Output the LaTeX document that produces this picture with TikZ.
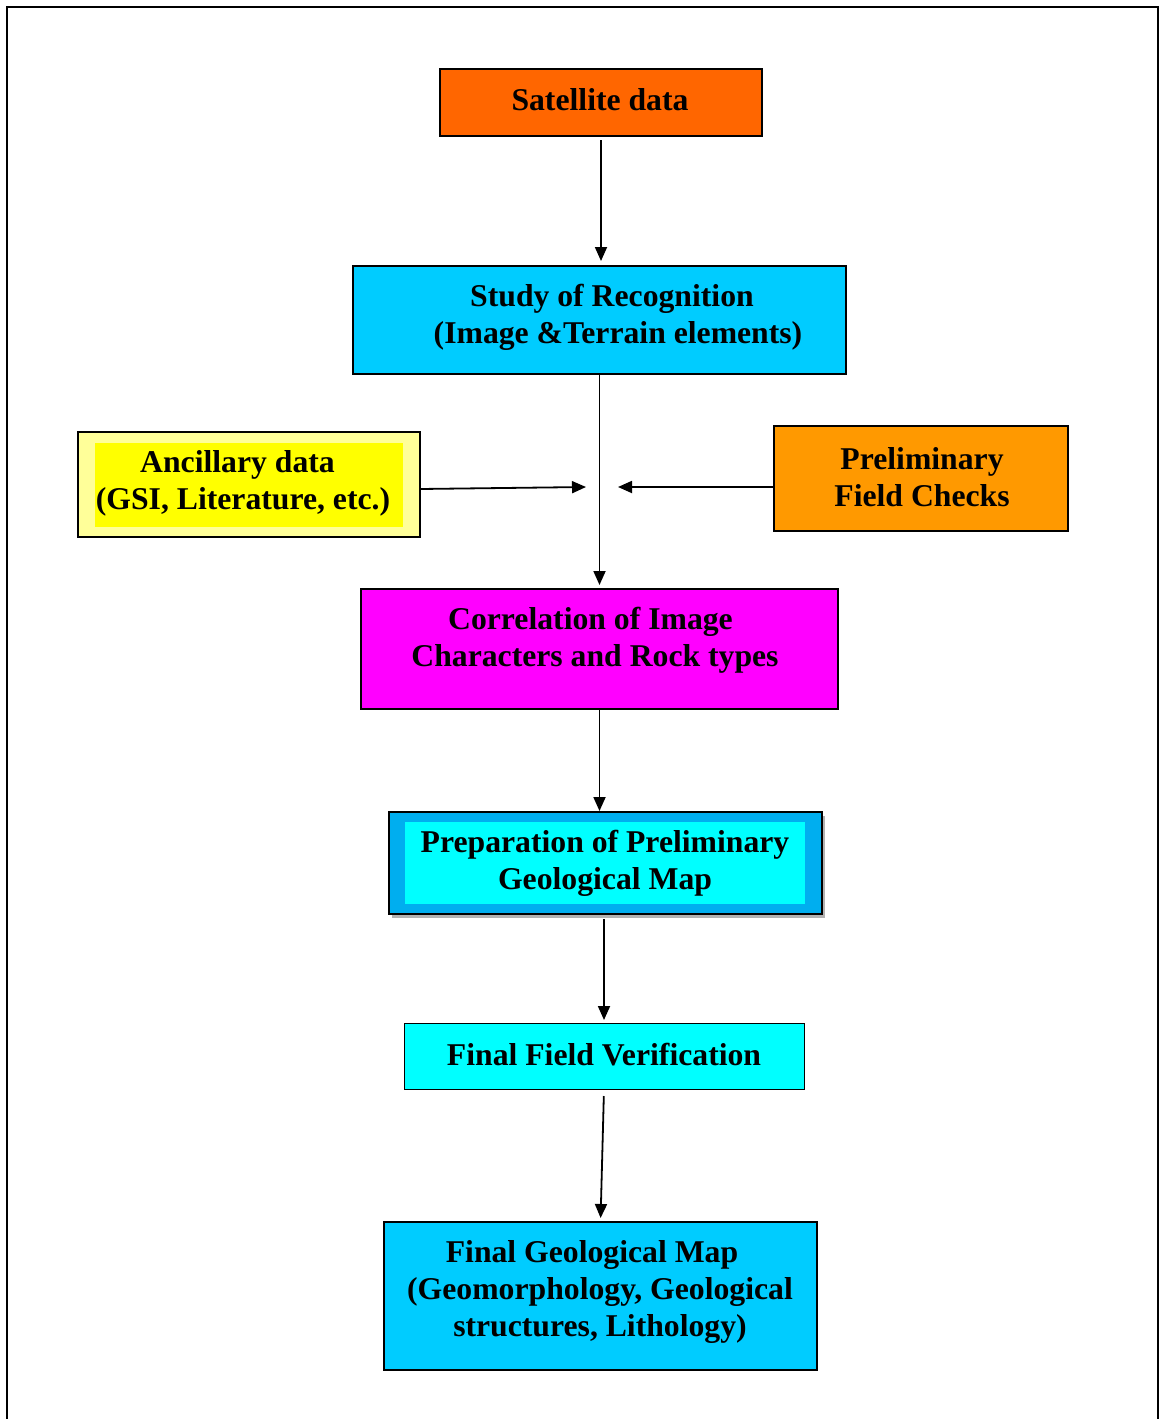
\documentclass[tikz,border=0pt]{standalone}
\usepackage{fontspec}
\setmainfont{Liberation Serif}
\usetikzlibrary{arrows.meta}
\definecolor{satorange}{HTML}{FF6600}
\definecolor{skyblue}{HTML}{00CCFF}
\definecolor{paleyellow}{HTML}{FFFF99}
\definecolor{brightyellow}{HTML}{FFFF00}
\definecolor{amber}{HTML}{FF9900}
\definecolor{magentabox}{HTML}{FF00FF}
\definecolor{deepsky}{HTML}{00AEEF}
\definecolor{cyanbox}{HTML}{00FFFF}
\tikzset{
  box/.style={draw=black, line width=1.5pt, inner sep=0pt, outer sep=0pt},
  plain/.style={inner sep=0pt, outer sep=0pt},
  lbl/.style={inner sep=0pt, align=center, font=\fontsize{31.7}{37}\selectfont\bfseries},
  arr/.style={line width=1.8pt, -{Triangle[length=14pt,width=12pt]}}
}
\begin{document}
\begin{tikzpicture}[x=1pt,y=-1pt]
\useasboundingbox (0,0) rectangle (1159,1419);
% page frame, open at the bottom
\draw[line width=2pt] (7,1425) -- (7,7) -- (1158,7) -- (1158,1425);

% boxes
\node[box, fill=satorange, minimum width=322pt, minimum height=67pt] (sat) at (601,102.5) {};
\node[lbl] (satT) at (600,99.5) {Satellite data};

\node[box, fill=skyblue, minimum width=493pt, minimum height=108pt] (study) at (599.5,320) {};
\node[lbl] (studyT) at (618,317.5) {Study of Recognition\hspace*{12pt}\\(Image \&Terrain elements)};

\node[box, fill=paleyellow, minimum width=342pt, minimum height=105pt] (anc) at (249,484.5) {};
\node[plain, fill=brightyellow, minimum width=308pt, minimum height=84pt] (ancIn) at (249,485) {};
\node[lbl] (ancT) at (243,483.5) {Ancillary data\hspace*{11pt}\\(GSI, Literature, etc.)};

\node[box, fill=amber, minimum width=294pt, minimum height=105pt] (pre) at (921,478.5) {};
\node[lbl] (preT) at (922,477) {Preliminary\\Field Checks};

\node[box, fill=magentabox, minimum width=477pt, minimum height=120pt] (corr) at (599.5,649) {};
\node[lbl] (corrT) at (595,640.5) {Correlation of Image\hspace*{9pt}\\Characters and Rock types};

% shadowed map box
\fill[gray!60] (392,816) rectangle (825,918);
\node[box, line width=2pt, fill=deepsky, minimum width=433pt, minimum height=102pt] (prep) at (605.5,863) {};
\node[plain, fill=cyanbox, minimum width=400pt, minimum height=82pt] (prepIn) at (605,863) {};
\node[lbl] (prepT) at (605,863) {Preparation of Preliminary\\Geological Map};

\node[box, line width=1pt, fill=cyanbox, minimum width=400pt, minimum height=66pt] (ff) at (604,1056) {};
\node[lbl] (ffT) at (604,1054.5) {Final Field Verification};

\node[box, fill=skyblue, minimum width=433pt, minimum height=148pt] (final) at (600.5,1296) {};
\node[lbl] (finalT) at (600,1292) {Final Geological Map\hspace*{16pt}\\(Geomorphology, Geological\\structures, Lithology)};

% connectors
\coordinate (m1) at (586,487);
\coordinate (m2) at (618,487);
\draw[arr, shorten <=4pt, shorten >=5pt] (sat.south) -- (sat.south |- study.north);
\draw[arr, shorten >=4pt] (study.south) -- (study.south |- corr.north);
\draw[arr] ([yshift=-4.5pt]anc.east) -- (m1);
\draw[arr] (pre.west |- m2) -- (m2);
\draw[arr, shorten >=1pt] (corr.south) -- (corr.south |- prep.north);
\draw[arr, shorten <=5pt, shorten >=3pt] (ff.north |- prep.south) -- (ff.north);
\draw[arr, shorten <=7pt, shorten >=4pt] (ff.south) -- (final.north);
\end{tikzpicture}
\end{document}
